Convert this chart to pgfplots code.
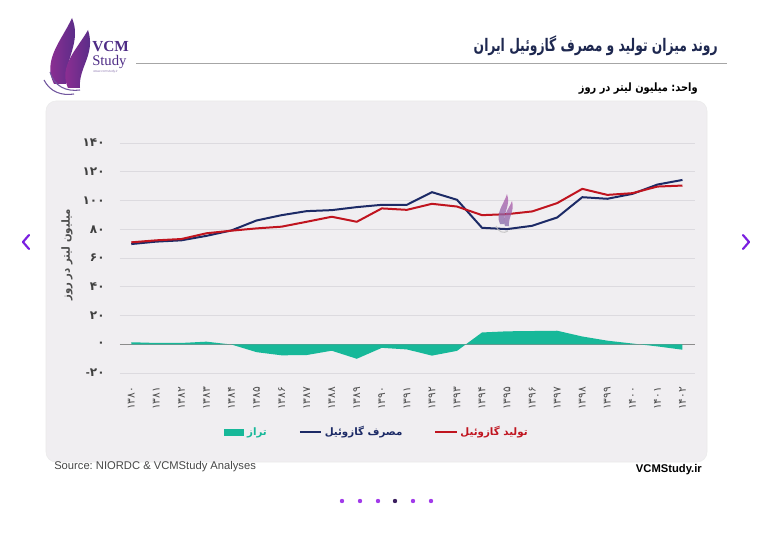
\documentclass[border=0pt]{standalone}
\usepackage{graphicx}
\usepackage{pgfplots}
\pgfplotsset{compat=1.18}
\usepackage{fontspec}
\setmainfont{Liberation Sans}
\newfontfamily\arabicfont[Script=Arabic]{DejaVu Sans}
\newfontfamily\serifbrand{Liberation Serif}
\TeXXeTstate=1
\frenchspacing

\definecolor{prodred}{HTML}{C0141F}
\definecolor{consnavy}{HTML}{1C2A66}
\definecolor{balteal}{HTML}{17B899}
\definecolor{panelbg}{HTML}{F0EEF1}
\definecolor{gridgray}{HTML}{DCDADF}
\definecolor{titlenavy}{HTML}{1E2850}
\definecolor{brandpurple}{HTML}{9A2F95}
\definecolor{brandviolet}{HTML}{4E2C86}
\definecolor{navpurple}{HTML}{7A1FE0}
\definecolor{dotpurple}{HTML}{A23BEA}
\definecolor{dotdark}{HTML}{3B1F5E}

% Diesel production and consumption, million litres per day (1380--1402)
\pgfplotstableread{
idx  prod   cons   bal
0    70.9   69.7   1.4
1    72.3   71.4   0.9
2    73.2   72.3   0.9
3    77.2   75.4   1.8
4    79.0   79.2  -0.2
5    80.6   86.1  -5.5
6    81.8   89.8  -7.7
7    85.2   92.6  -7.5
8    88.7   93.3  -4.5
9    85.2   95.4 -10.1
10   94.5   97.0  -2.5
11   93.5   97.0  -3.6
12   97.7  105.8  -7.9
13   95.8  100.5  -4.6
14   89.8   81.0   8.2
15   90.5   80.1   9.0
16   92.4   82.4   9.2
17   98.2   88.2   9.4
18  108.1  102.3   5.4
19  103.9  101.2   2.5
20  105.1  104.6   0.5
21  109.7  111.1  -1.5
22  110.4  114.3  -3.8
}\dieseldata

\begin{document}
\begin{tikzpicture}
\begin{scope}[x=0.75pt,y=-0.75pt]
  \path[use as bounding box] (0,0) rectangle (775,535);
  \fill[white] (0,0) rectangle (775,535);
  % chart panel
  \fill[panelbg, draw=black!8, rounded corners=7.5pt] (46,101) rectangle (707,462);
  % header rule and titles
  \draw[black!35, line width=0.6pt] (136,63) -- (727,63);
  \node[anchor=east, inner sep=0, text=titlenavy, font=\arabicfont\bfseries\fontsize{13}{15}\selectfont]
    at (718,46) {\scalebox{0.71}[1]{\beginR روند میزان تولید و مصرف گازوئیل ایران\endR}};
  \node[anchor=east, inner sep=0, text=black, font=\arabicfont\bfseries\fontsize{8.6}{10}\selectfont]
    at (698,89) {\scalebox{0.86}[1]{\beginR واحد: میلیون لیتر در روز\endR}};
  % y axis title
  \node[rotate=90, inner sep=0, text=black!70, font=\arabicfont\bfseries\fontsize{8.4}{10}\selectfont]
    at (67,255) {\scalebox{0.9}[1]{\beginR میلیون لیتر در روز\endR}};
  % brand mark
  \shade[left color=brandpurple, right color=brandviolet]
    (54,84) .. controls (42,60) and (62,40) .. (72,18) .. controls (82,42) and (64,60) .. (66,84) -- cycle;
  \shade[left color=brandpurple, right color=brandviolet]
    (68,88) .. controls (58,66) and (78,48) .. (88,30) .. controls (96,54) and (78,68) .. (80,88) -- cycle;
  \draw[brandviolet!80, line width=0.8pt] (44,80) .. controls (50,92) and (62,96) .. (74,94);
  \draw[brandviolet!80, line width=0.8pt] (50,72) .. controls (54,86) and (66,92) .. (80,90);
  \node[anchor=west, inner sep=0, text=brandviolet, font=\serifbrand\bfseries\fontsize{11.5}{12}\selectfont] at (92,47) {VCM};
  \node[anchor=west, inner sep=0, text=brandviolet, font=\serifbrand\fontsize{11}{12}\selectfont] at (92,62) {Study};
  \node[anchor=west, inner sep=0, text=brandviolet!60, font=\fontsize{2.5}{3}\selectfont] at (93,72) {www.vcmstudy.ir};
  % footer
  \node[anchor=west, inner sep=0, text=black!72, font=\fontsize{8.4}{10}\selectfont] at (54,467) {Source: NIORDC \& VCMStudy Analyses};
  \node[anchor=east, inner sep=0, text=black, font=\bfseries\fontsize{8.4}{10}\selectfont] at (702,470) {VCMStudy.ir};
  % slide navigation
  \foreach \cx in {342,360,378,413,431} \fill[dotpurple] (\cx,501) circle (2.2);
  \fill[dotdark] (395,501) circle (2.2);
  \draw[navpurple, line width=1.6pt, line cap=round, line join=round] (29,235) -- (23,242) -- (29,249);
  \draw[navpurple, line width=1.6pt, line cap=round, line join=round] (743,235) -- (749,242) -- (743,249);
\end{scope}

\begin{axis}[
  at={(90pt,-279.75pt)}, anchor=south west,
  scale only axis, width=431.25pt, height=172.5pt,
  xmin=-0.45, xmax=22.5, ymin=-20, ymax=140,
  axis line style={draw=none}, tick style={draw=none},
  ymajorgrids, grid style={gridgray, line width=0.6pt},
  xtick={0,...,22},
  xticklabels={۱۳۸۰,۱۳۸۱,۱۳۸۲,۱۳۸۳,۱۳۸۴,۱۳۸۵,۱۳۸۶,۱۳۸۷,۱۳۸۸,۱۳۸۹,۱۳۹۰,۱۳۹۱,۱۳۹۲,۱۳۹۳,۱۳۹۴,۱۳۹۵,۱۳۹۶,۱۳۹۷,۱۳۹۸,۱۳۹۹,۱۴۰۰,۱۴۰۱,۱۴۰۲},
  xticklabel style={rotate=90, anchor=east, text=black!70, font=\arabicfont\fontsize{8}{9}\selectfont},
  xticklabel shift=7pt,
  ytick={-20,0,20,40,60,80,100,120,140},
  yticklabels={{\mbox{\rmfamily -}\mbox{۲۰}},۰,۲۰,۴۰,۶۰,۸۰,۱۰۰,۱۲۰,۱۴۰},
  yticklabel style={text=black!75, font=\arabicfont\bfseries\fontsize{9}{10}\selectfont},
  yticklabel shift=8pt,
  extra y ticks={0}, extra y tick labels={},
  extra y tick style={grid style={black!45, line width=0.7pt}},
  legend columns=3,
  legend style={at={(axis description cs:0.447,-0.257)}, anchor=center,
    draw=none, fill=none, font=\arabicfont\bfseries\fontsize{7.7}{10}\selectfont,
    /tikz/every even column/.append style={column sep=22pt}},
  legend cell align=left,
]
\addplot[fill=balteal, draw=none, area legend,
  legend image code/.code={\fill[balteal] (0pt,-2.6pt) rectangle (15.5pt,2.6pt);}]
  table[x=idx, y=bal] {\dieseldata} \closedcycle;
\addlegendentry{\textcolor{balteal}{\beginR تراز\endR}}
\addplot[consnavy, line width=1.5pt, line join=round, mark=none,
  legend image code/.code={\draw[consnavy, line width=1.5pt] (0pt,0pt) -- (16pt,0pt);}]
  table[x=idx, y=cons] {\dieseldata};
\addlegendentry{\textcolor{consnavy}{\beginR مصرف گازوئیل\endR}}
\addplot[prodred, line width=1.5pt, line join=round, mark=none,
  legend image code/.code={\draw[prodred, line width=1.5pt] (0pt,0pt) -- (16pt,0pt);}]
  table[x=idx, y=prod] {\dieseldata};
\addlegendentry{\textcolor{prodred}{\beginR تولید گازوئیل\endR}}
\end{axis}

% faint brand watermark over the plot
\begin{scope}[x=0.75pt,y=-0.75pt, opacity=0.75]
  \shade[top color=brandpurple!80, bottom color=brandviolet!70]
    (500,224) .. controls (495,213) and (504,204) .. (507,194) .. controls (511,205) and (503,213) .. (504,224) -- cycle;
  \shade[top color=brandpurple!80, bottom color=brandviolet!70]
    (505,226) .. controls (501,217) and (509,209) .. (512,201) .. controls (515,211) and (508,217) .. (509,226) -- cycle;
  \draw[black!25, line width=0.8pt] (496,226) .. controls (498,232) and (504,234) .. (508,231);
\end{scope}
\end{tikzpicture}
\end{document}
